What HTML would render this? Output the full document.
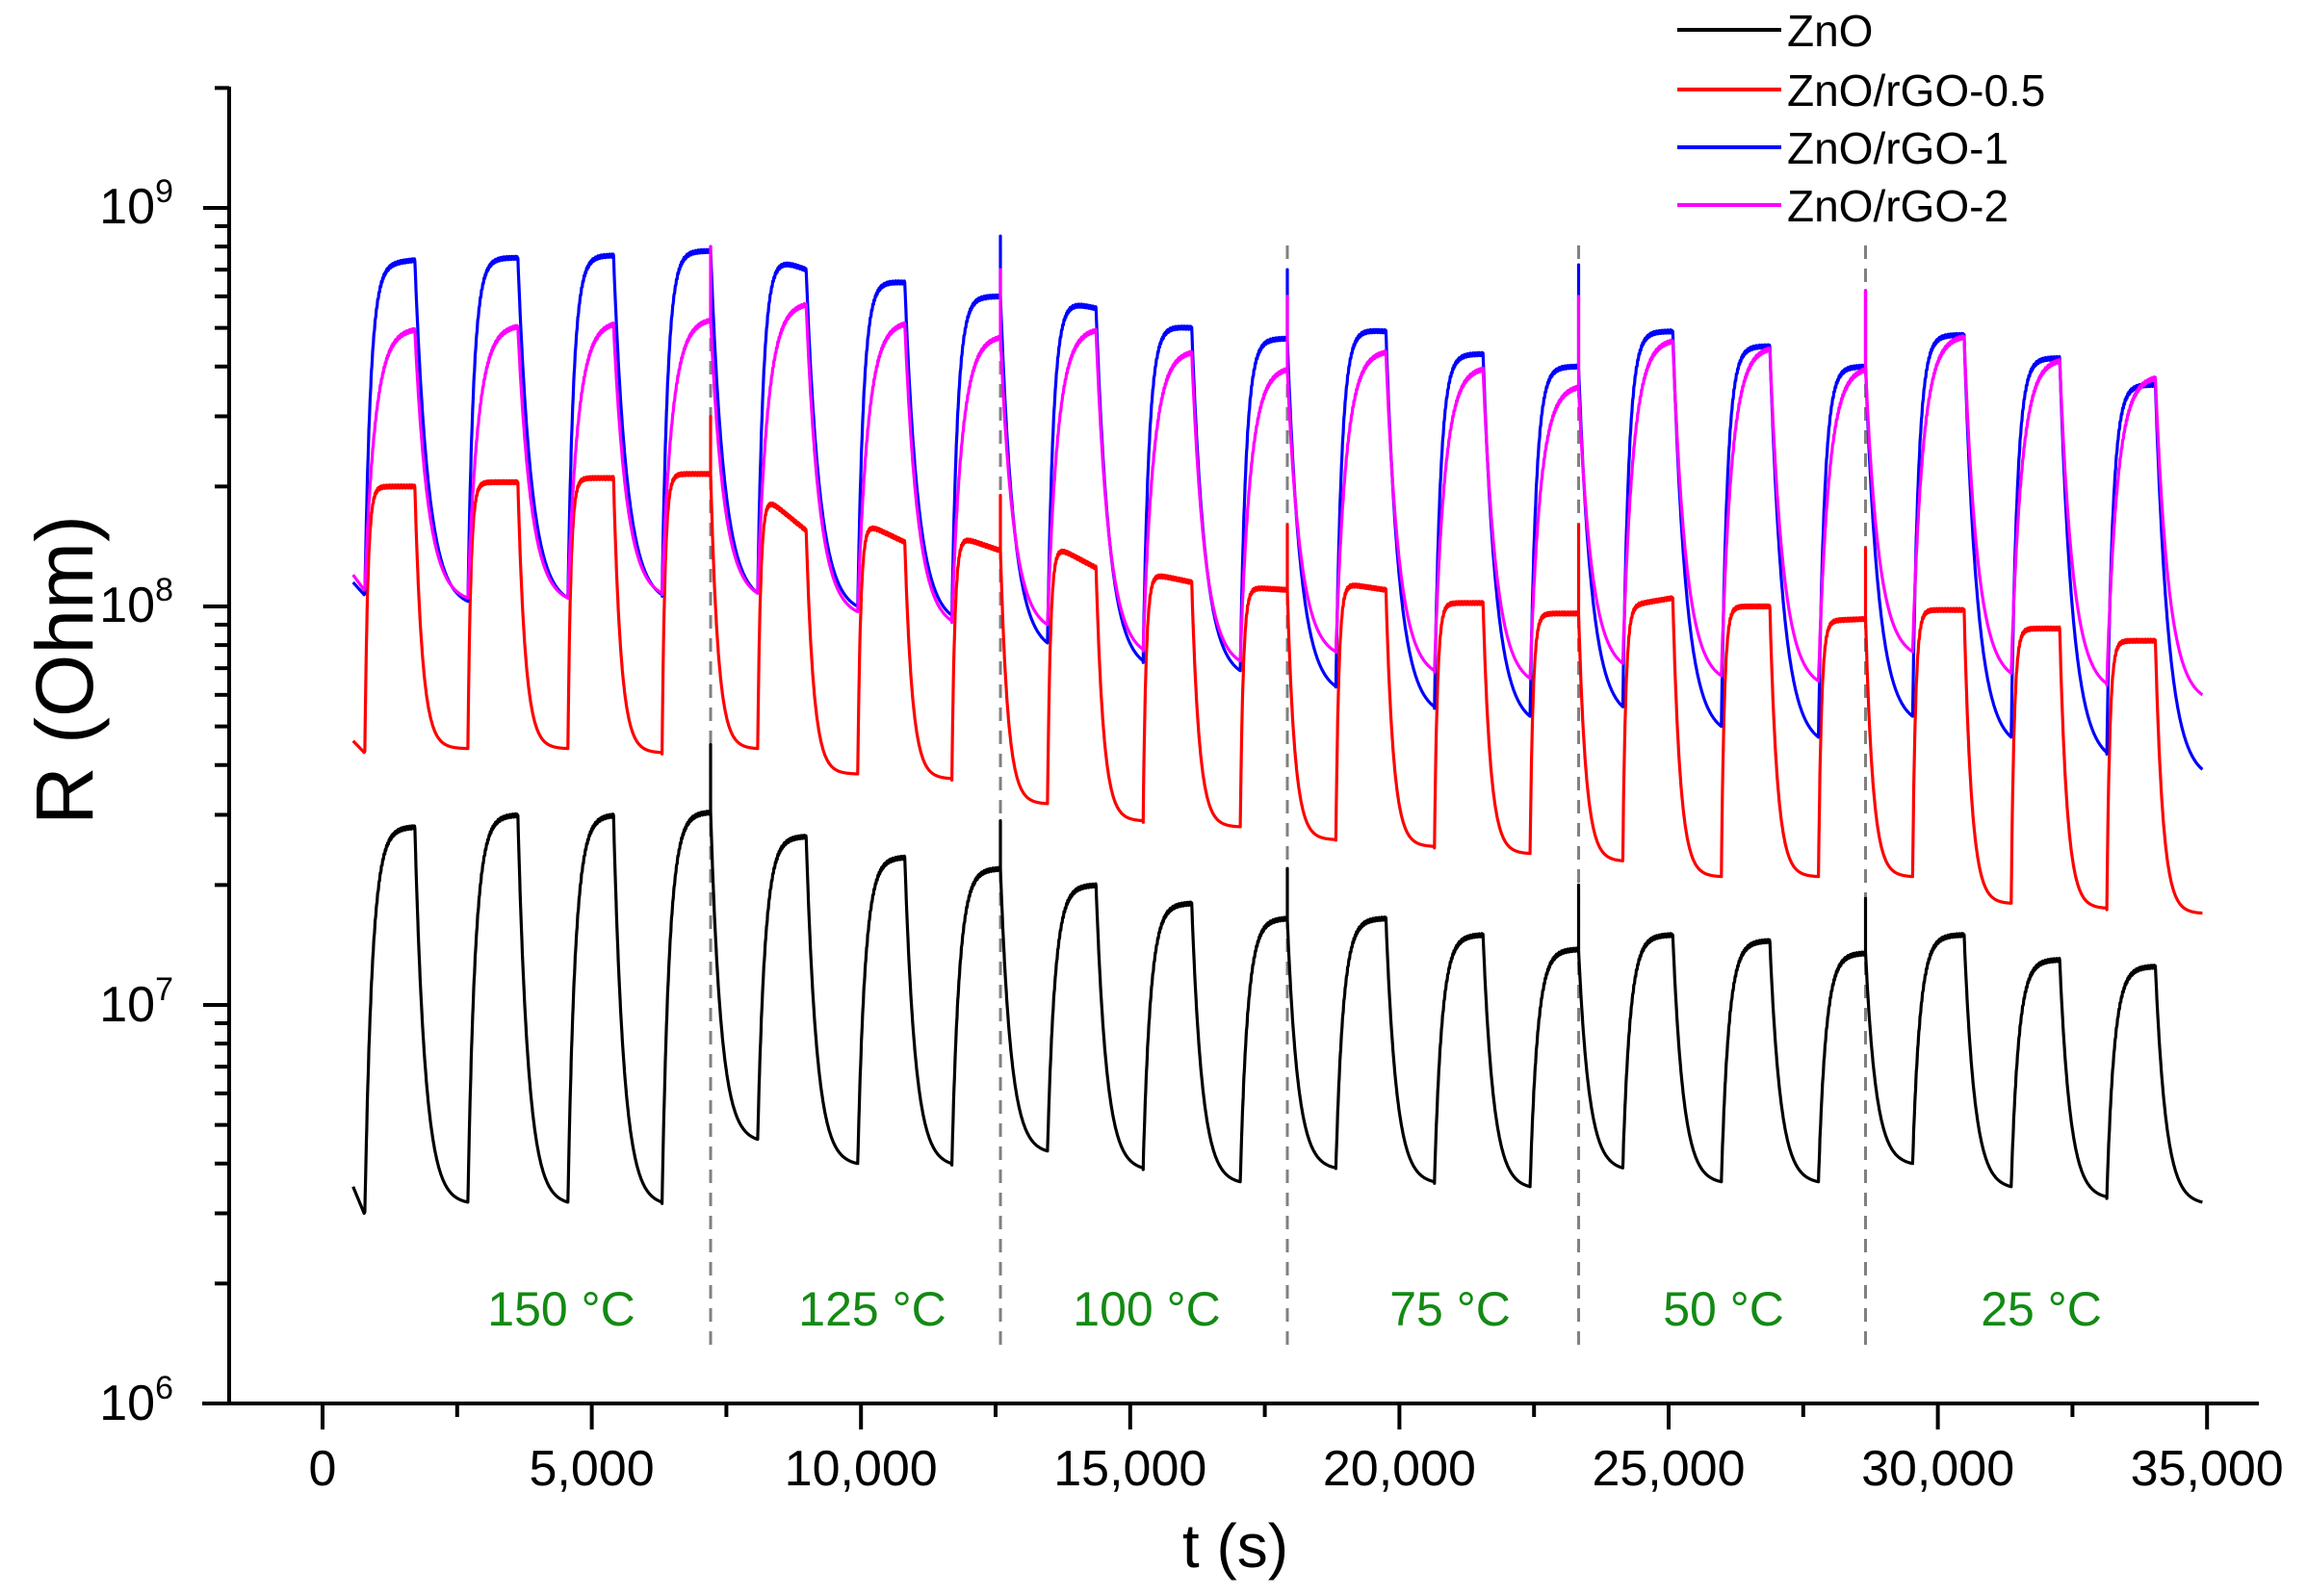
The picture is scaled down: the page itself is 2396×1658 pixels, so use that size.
<!DOCTYPE html>
<html><head><meta charset="utf-8"><style>
html,body{margin:0;padding:0;background:#fff}
svg{display:block}
text{font-family:"Liberation Sans",Arial,sans-serif}
</style></head><body>
<svg id="s" width="2396" height="1658" viewBox="0 0 2396 1658" xmlns="http://www.w3.org/2000/svg">
<g id="dash" stroke="#808080" stroke-width="3" stroke-dasharray="14,10"></g>
<g id="series" fill="none" stroke-width="3.2" stroke-linejoin="round"></g>
<g stroke="#000" stroke-width="4" fill="none" id="axes">
<line x1="238" y1="90" x2="238" y2="1460"/>
<line x1="210" y1="1458" x2="2346" y2="1458"/>
</g>
<g font-size="52" fill="#000" text-anchor="middle" id="xl"></g>
<g font-size="52" fill="#000" text-anchor="end">
<text x="180" y="232">10<tspan font-size="34" dy="-22">9</tspan></text>
<text x="180" y="646">10<tspan font-size="34" dy="-22">8</tspan></text>
<text x="180" y="1061">10<tspan font-size="34" dy="-22">7</tspan></text>
<text x="180" y="1475">10<tspan font-size="34" dy="-22">6</tspan></text>
</g>
<text x="1283" y="1628" font-size="64" text-anchor="middle">t (s)</text>
<text transform="translate(96,696) rotate(-90)" font-size="84" text-anchor="middle">R (Ohm)</text>
<g font-size="50" fill="#138a13" text-anchor="middle">
<text x="583" y="1377">150 °C</text>
<text x="906" y="1377">125 °C</text>
<text x="1191" y="1377">100 °C</text>
<text x="1506" y="1377">75 °C</text>
<text x="1790" y="1377">50 °C</text>
<text x="2120" y="1377">25 °C</text>
</g>
<g stroke-width="4">
<line x1="1742" y1="31" x2="1850" y2="31" stroke="#000"/>
<line x1="1742" y1="93" x2="1850" y2="93" stroke="#f00"/>
<line x1="1742" y1="153" x2="1850" y2="153" stroke="#00f"/>
<line x1="1742" y1="213" x2="1850" y2="213" stroke="#f0f"/>
</g>
<g font-size="46">
<text x="1856" y="48">ZnO</text>
<text x="1856" y="110">ZnO/rGO-0.5</text>
<text x="1856" y="170">ZnO/rGO-1</text>
<text x="1856" y="230">ZnO/rGO-2</text>
</g>
</svg>
<script>
var NS="http://www.w3.org/2000/svg";
function el(p,n,a){var e=document.createElementNS(NS,n);for(var k in a)e.setAttribute(k,a[k]);p.appendChild(e);return e;}
var axes=document.getElementById('axes');
function Y(r){return 1458-414*(Math.log10(r)-6);}
for(var d=6;d<=9;d++){el(axes,'line',{x1:211,x2:238,y1:Y(Math.pow(10,d)),y2:Y(Math.pow(10,d))});
 if(d<9)for(var m=2;m<=9;m++){var y=Y(m*Math.pow(10,d));el(axes,'line',{x1:223,x2:238,y1:y,y2:y});}}
el(axes,'line',{x1:223,x2:238,y1:Y(2e9),y2:Y(2e9)});
var xl=document.getElementById('xl');
for(var t=0;t<=35000;t+=2500){var x=335+t*0.05592;var maj=t%5000==0;
 el(axes,'line',{x1:x,x2:x,y1:1458,y2:maj?1485:1472});
 if(maj){var tx=el(xl,'text',{x:x,y:1543});tx.textContent=t==0?'0':(t/1000)+',000';}}
var dash=document.getElementById('dash');
[483,680,875,1073,1268].forEach(function(v){var x=v*1.528;el(dash,'line',{x1:x,x2:x,y1:255,y2:1405});});
var ons=[248,318,386,450,515,583,647,712,777,843,908,975,1040,1103,1170,1236,1300,1367,1432];
var offs=[282,352,417,483,548,615,680,745,810,875,942,1008,1073,1137,1203,1268,1335,1400,1465];
var END=1497,START=240;
var S=[
{c:'#000',st:3.5e6,end:3.2e6,tr:5,tf:7,
 mn:[3.0e6,3.2e6,3.2e6,3.2e6,4.6e6,4.0e6,4.0e6,4.3e6,3.9e6,3.6e6,3.9e6,3.6e6,3.5e6,3.9e6,3.6e6,3.6e6,4.0e6,3.5e6,3.3e6],
 pa:[2.8e7,3e7,3e7,3.05e7,2.65e7,2.35e7,2.2e7,2e7,1.8e7,1.65e7,1.65e7,1.5e7,1.38e7,1.5e7,1.45e7,1.35e7,1.5e7,1.3e7,1.25e7],
 sp:[4.5e7,2.9e7,2.2e7,2e7,1.85e7]},
{c:'#f00',st:4.6e7,end:1.7e7,tr:2,tf:5,
 mn:[4.3e7,4.4e7,4.4e7,4.3e7,4.4e7,3.8e7,3.7e7,3.2e7,2.9e7,2.8e7,2.6e7,2.5e7,2.4e7,2.3e7,2.1e7,2.1e7,2.1e7,1.8e7,1.75e7],
 pa:[2e8,2.05e8,2.1e8,2.15e8,1.95e8,1.65e8,1.52e8,1.45e8,1.22e8,1.12e8,1.15e8,1.02e8,9.6e7,1.0e8,1.0e8,9.2e7,9.8e7,8.8e7,8.2e7],
 pb:[2e8,2.05e8,2.1e8,2.15e8,1.55e8,1.45e8,1.38e8,1.25e8,1.15e8,1.1e8,1.1e8,1.02e8,9.6e7,1.05e8,1.0e8,9.3e7,9.8e7,8.8e7,8.2e7],
 sp:[3e8,1.9e8,1.6e8,1.6e8,1.4e8]},
{c:'#00f',st:1.15e8,end:3.9e7,tr:4,tf:9,
 mn:[1.07e8,1.03e8,1.05e8,1.07e8,1.08e8,1.0e8,9.5e7,8.1e7,7.3e7,6.9e7,6.3e7,5.6e7,5.3e7,5.6e7,5.0e7,4.7e7,5.3e7,4.7e7,4.3e7],
 pa:[7.2e8,7.5e8,7.6e8,7.8e8,7.8e8,6.6e8,6.0e8,6.0e8,5.1e8,4.7e8,5.0e8,4.3e8,4.0e8,4.9e8,4.5e8,4.0e8,4.8e8,4.2e8,3.6e8],
 pb:[7.4e8,7.5e8,7.6e8,7.8e8,7.0e8,6.5e8,6.0e8,5.6e8,5.0e8,4.7e8,4.9e8,4.3e8,4.0e8,4.9e8,4.5e8,4.0e8,4.8e8,4.2e8,3.6e8],
 sp:[8e8,8.5e8,7e8,7.2e8,6.2e8]},
{c:'#f0f',st:1.2e8,end:6e7,tr:7,tf:9,
 mn:[1.1e8,1.05e8,1.05e8,1.08e8,1.08e8,9.7e7,9.2e7,9.0e7,7.8e7,7.3e7,7.7e7,6.9e7,6.6e7,7.2e7,6.7e7,6.5e7,7.7e7,6.8e7,6.4e7],
 pa:[5e8,5.1e8,5.2e8,5.3e8,5.8e8,5.2e8,4.8e8,5e8,4.4e8,4.0e8,4.4e8,4.0e8,3.6e8,4.7e8,4.5e8,4.0e8,4.8e8,4.2e8,3.8e8],
 sp:[8e8,7e8,6e8,6e8,6.2e8]}
];
var g=document.getElementById('series');
S.forEach(function(s){
 var pb=s.pb||s.pa, L=Math.log10, pts=[];
 function P(xd,r){pts.push((xd*1.528).toFixed(1)+','+Y(r).toFixed(1));}
 P(START,s.st);P(ons[0]-0.5,s.mn[0]);
 for(var i=0;i<ons.length;i++){
  var on=ons[i],off=offs[i],nxt=i+1<ons.length?ons[i+1]:END;
  var lmin=L(s.mn[i]),lnm=L(i+1<ons.length?s.mn[i+1]:s.end);
  var lpe=0;
  for(var x=on;x<=off;x+=0.25){
   var fr=(x-on)/(off-on);var lp=L(s.pa[i])*(1-fr)+L(pb[i])*fr;
   var v=lmin+(lp-lmin)*(1-Math.exp(-(x-on)/s.tr))+(Math.sin(x*7.3)*0.004);
   lpe=v;P(x,Math.pow(10,v));}
  var si=[3,6,9,12,15].indexOf(i);
  if(si>=0){P(off,s.sp[si]);}
  var D=nxt-off,e0=Math.exp(-D/s.tf);
  for(var x=off;x<=nxt;x+=0.25){
   var f=(Math.exp(-(x-off)/s.tf)-e0)/(1-e0);
   P(x,Math.pow(10,lnm+(lpe-lnm)*f));}
 }
 el(g,'path',{d:'M'+pts.join('L'),stroke:s.c});
});
</script>
</body></html>
